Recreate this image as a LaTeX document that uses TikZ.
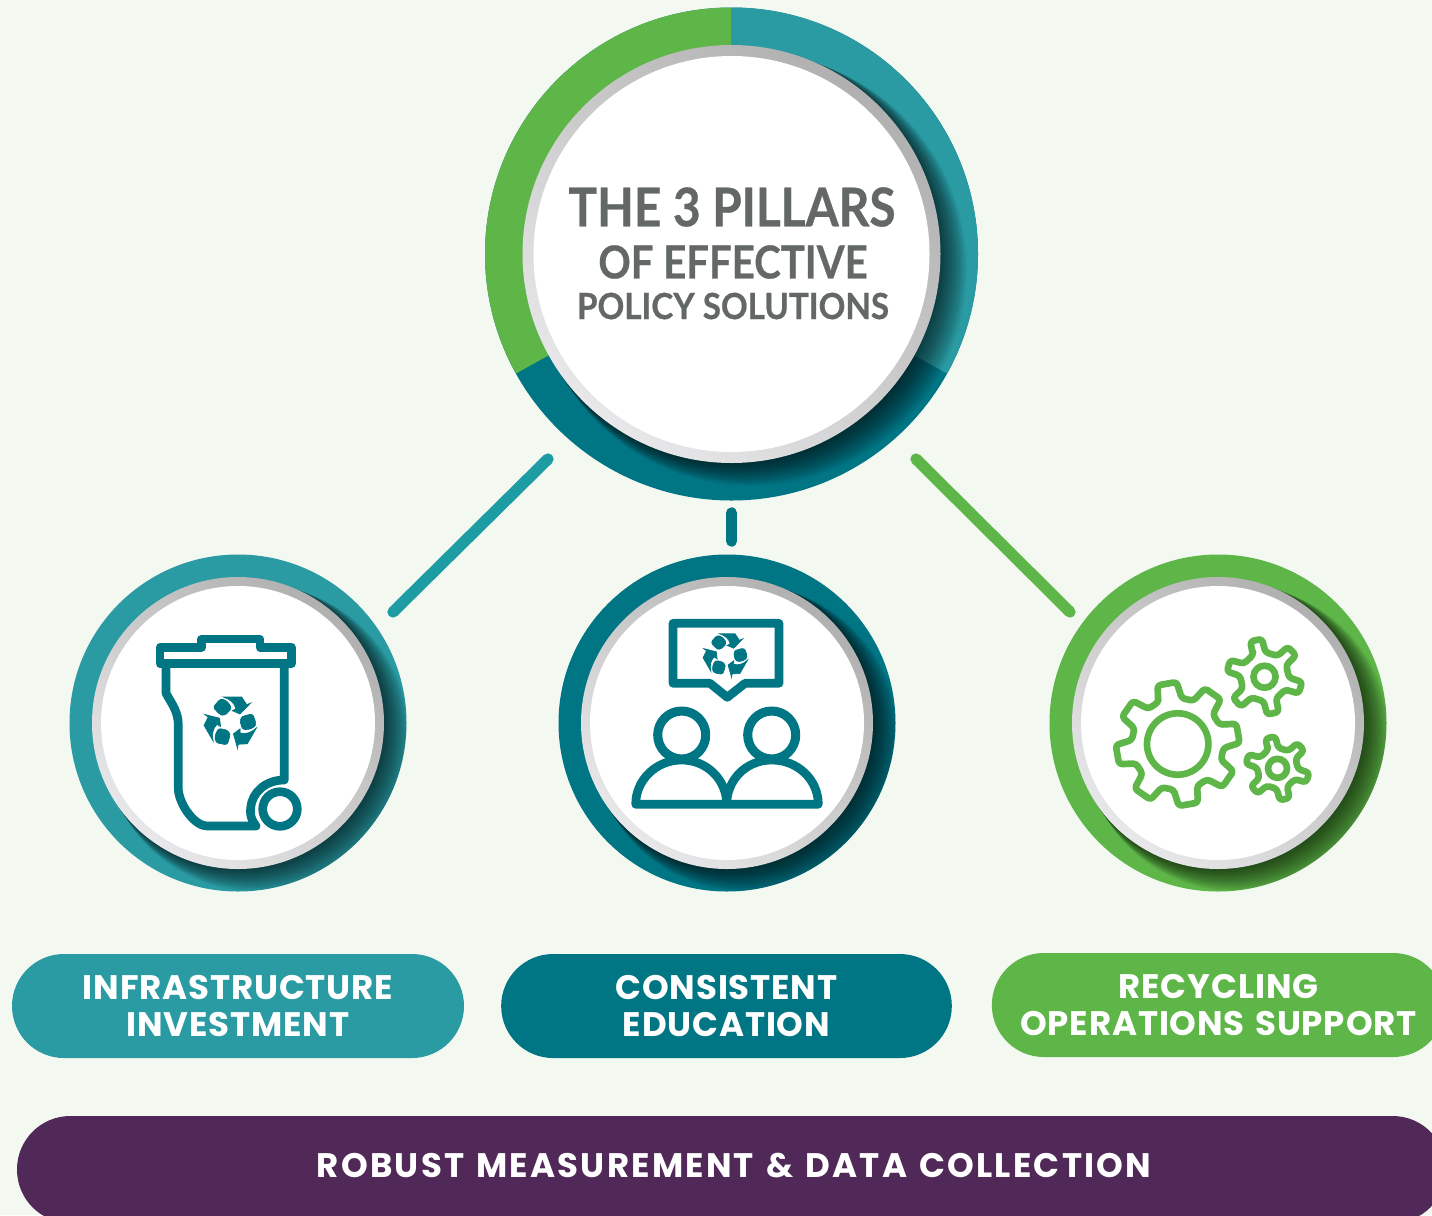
\documentclass[tikz,border=0pt]{standalone}
\usepackage{fontspec}
\setmainfont{Poppins}[BoldFont=* Bold]
\newfontfamily\pillfont{Poppins}[BoldFont=* Bold,WordSpace=1.3]
\newfontfamily\titlefont{Lato}[BoldFont=* Bold,FakeBold=0.6]
\usetikzlibrary{shadings}
\definecolor{pageback}{RGB}{243,248,241}
\definecolor{tealA}{RGB}{42,155,163}
\definecolor{tealB}{RGB}{0,117,132}
\definecolor{tealC}{RGB}{30,156,163}
\definecolor{greenA}{RGB}{94,182,72}
\definecolor{plumA}{RGB}{81,41,88}
\definecolor{titlegrey}{RGB}{99,103,102}
\definecolor{bevelA}{RGB}{176,176,176}
\definecolor{bevelB}{RGB}{232,232,234}
\tikzset{
  pillbox/.style={rounded corners=39pt,minimum height=78pt,text=white,align=center,inner sep=0pt,
    font=\pillfont\bfseries\fontsize{25.5}{28}\selectfont\addfontfeature{LetterSpace=2.5}},
  titleline/.style={text=titlegrey,inner sep=0pt},
  linkline/.style={line width=8.5pt,line cap=round},
  iconline/.style={draw=tealB,line width=6.5pt,line join=round,line cap=round},
  gearline/.style={draw=greenA,line width=5pt,line join=round},
}
% ring shadow, grey bevel and white disc
\newcommand{\discring}[6]{% x, y, outer, bevel, white, name
  \begin{scope}
    \clip (#1,#2) circle (#3);
    \foreach \k in {1,...,24}
      \fill[black,opacity=0.03] ({#1+\k*0.8},{#2+\k*0.65}) circle ({#4+\k*0.3});
  \end{scope}
  \shade[top color=bevelA,bottom color=bevelB,shading angle=-40] (#1,#2) circle (#4);
  \node[circle,fill=white,minimum size=#5*1.5pt,inner sep=0pt] (#6) at (#1,#2) {};
}
\newcommand{\gearshape}[7]{% x, y, teeth, first angle, tip, root, hub
  \begin{scope}[shift={(#1,#2)},yscale=-1]
    \draw[gearline,rounded corners=2.4pt] (#4+15:#6)
      \foreach \a in {1,...,#3} {
        -- ({#4-(\a-1)*360/#3+15}:#6) -- ({#4-(\a-1)*360/#3+9}:#5) -- ({#4-(\a-1)*360/#3-9}:#5) -- ({#4-(\a-1)*360/#3-15}:#6)
      } -- cycle;
    \draw[gearline] (0,0) circle (#7);
  \end{scope}
}
\tikzset{recycle/.pic={
  \foreach \r in {0,120,240} {
    \begin{scope}[yscale=-1,rotate=\r]
      \filldraw[tealB,line width=0.5pt,rounded corners=2pt] (-10.3,-23.5) -- (-4,-21) -- (0.9,-14) -- (-6,-6.5) -- (-11,-7.3) -- (-18,-14.7) -- cycle;
      \filldraw[tealB,line width=0.5pt] (-7.7,-25) -- (10.7,-25) -- (15.7,-17.3) -- (19.7,-19) -- (9,-8) -- (1.3,-11.3) -- (5,-13.3) .. controls (3.5,-19) and (-1,-23) .. (-7.7,-25) -- cycle;
    \end{scope}
  }
}}
\begin{document}
\begin{tikzpicture}[x=0.75pt,y=0.75pt,yscale=-1,xscale=1]
\clip (0,0) rectangle (1432,1215);
\fill[pageback] (0,0) rectangle (1432,1215);

% main ring
\fill[tealB] (731.5,254) circle (246.5);
\fill[greenA] (731.5,254) -- (731.5,7.5) arc[start angle=-90,end angle=-209,radius=246.5] -- cycle;
\fill[tealA] (731.5,254) -- (731.5,7.5) arc[start angle=-90,end angle=29,radius=246.5] -- cycle;
\discring{731.5}{254}{246.5}{209}{198}{titledisc}
\node[titleline,font=\titlefont\bfseries\fontsize{40}{44}\selectfont,xscale=0.895] (titleA) at (732,207) {THE 3 PILLARS};
\node[titleline,font=\titlefont\bfseries\fontsize{34}{36}\selectfont,xscale=0.885] (titleB) at (733,262) {OF EFFECTIVE};
\node[titleline,font=\titlefont\bfseries\fontsize{27}{30}\selectfont,xscale=0.92] (titleC) at (733,306) {POLICY SOLUTIONS};

% pillar rings
\fill[tealA] (238,723) circle (168.5);
\discring{238}{723}{168.5}{146}{137}{bindisc}
\fill[tealB] (727,723) circle (168.5);
\discring{727}{723}{168.5}{146}{137}{peopledisc}
\fill[greenA] (1218,723) circle (168.5);
\discring{1218}{723}{168.5}{146}{137}{geardisc}

% links
\coordinate (linkLa) at (548,459);
\coordinate (linkLb) at (393,612);
\coordinate (linkMa) at (731.5,513);
\coordinate (linkMb) at (731.5,541);
\coordinate (linkRa) at (916,459);
\coordinate (linkRb) at (1070,612);
\draw[linkline,color=tealC] (linkLa) -- (linkLb);
\draw[linkline,color=tealB] (linkMa) -- (linkMb);
\draw[linkline,color=greenA] (linkRa) -- (linkRb);

% bin icon
\draw[iconline] (160,647.3) -- (201.7,647.3) -- (201.7,639) -- (260,639) -- (260,647.3) -- (291.3,647.3) -- (291.3,663.7) -- (160,663.7) -- cycle;
\draw[iconline] (166,663.7) -- (166,693.3) .. controls (172,704) and (178.3,712) .. (178.3,725) -- (178.3,790) .. controls (180,806) and (195,826) .. (207,826) -- (256,826) .. controls (250,818) and (250,812) .. (250.7,808) .. controls (252,792) and (266,780) .. (284.3,780) -- (284.3,663.7);
\draw[iconline,line width=6.5pt] (280,809) circle (17.3);
\pic at (231,722) {recycle};

% people icon
\draw[iconline] (673,623.3) -- (779,623.3) -- (779,683.3) -- (745,683.3) -- (727.3,697.3) -- (710,683.3) -- (673,683.3) -- cycle;
\pic[scale=0.85] at (726,655) {recycle};
\draw[iconline,line width=6.8pt] (681.7,735) circle (24);
\draw[iconline,line width=6.8pt] (771.7,735) circle (24);
\draw[iconline] (635.7,804.3) .. controls (635.7,780) and (656,760) .. (681.7,760) .. controls (707,760) and (726.7,780) .. (726.7,804.3) .. controls (726.7,780) and (746,760) .. (771.7,760) .. controls (798,760) and (818.3,780) .. (818.3,804.3) -- cycle;

% gear icon
\gearshape{1177.7}{744}{8}{100}{62}{46}{30.7}
\gearshape{1264.5}{676.7}{6}{103}{38}{24.5}{11}
\gearshape{1277.5}{768.3}{6}{103}{32}{20.5}{9.5}

% labels
\node[pillbox,fill=tealA,minimum width=339pt] (infra) at (238,1006) {INFRASTRUCTURE\\INVESTMENT};
\node[pillbox,fill=tealB,minimum width=338pt] (educ) at (726.5,1006) {CONSISTENT\\EDUCATION};
\node[pillbox,fill=greenA,minimum width=340pt] (recyc) at (1218.5,1005) {RECYCLING\\OPERATIONS SUPPORT};
\fill[plumA,rounded corners=40pt] (17,1116) rectangle (1446,1223);
\node[text=white,inner sep=0pt,font=\pillfont\bfseries\fontsize{25.5}{28}\selectfont\addfontfeature{LetterSpace=6.5}] (robust) at (734,1165) {ROBUST MEASUREMENT \& DATA COLLECTION};
\end{tikzpicture}
\end{document}
